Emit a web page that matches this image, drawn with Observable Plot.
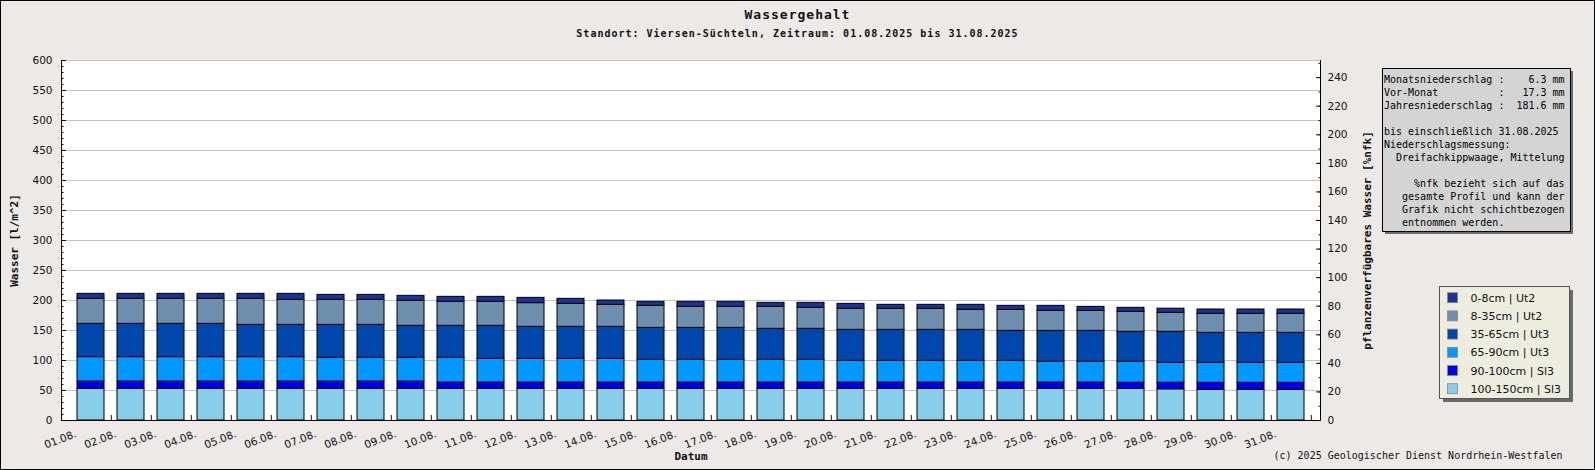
<!DOCTYPE html>
<html><head><meta charset="utf-8">
<script src="https://cdn.jsdelivr.net/npm/d3@7"></script>
<script src="https://cdn.jsdelivr.net/npm/@observablehq/plot@0.6"></script>
<style>
html,body{margin:0;padding:0;background:#ece9e7;}
#chart{width:1595px;height:470px;}
</style></head><body><div id="chart"></div>
<script>
// ---- data ----
const days = ["01.08.","02.08.","03.08.","04.08.","05.08.","06.08.","07.08.","08.08.","09.08.","10.08.",
  "11.08.","12.08.","13.08.","14.08.","15.08.","16.08.","17.08.","18.08.","19.08.","20.08.",
  "21.08.","22.08.","23.08.","24.08.","25.08.","26.08.","27.08.","28.08.","29.08.","30.08.","31.08."];
const layerNames = ["100-150cm | Sl3","90-100cm | Sl3","65-90cm | Ut3","35-65cm | Ut3","8-35cm | Ut2","0-8cm | Ut2"];
const layerColors = ["#87ceeb","#0000ee","#0099ff","#0047ab","#6f8fae","#1a3399"];
const legendOrder = ["0-8cm | Ut2","8-35cm | Ut2","35-65cm | Ut3","65-90cm | Ut3","90-100cm | Sl3","100-150cm | Sl3"];
const w100_150 = [52.8,52.8,52.8,52.8,52.8,52.8,52.8,52.8,52.8,52.8,52.8,52.8,52.8,52.8,52.8,52.8,52.8,52.8,52.8,52.8,52.8,52.8,52.8,52.8,52.8,52.8,52.5,52.0,51.0,51.0,51.0];
const w90_100  = [12.2,12.2,12.2,12.2,12.2,12.2,12.2,12.2,12.2,10.5,10.5,10.5,10.5,10.5,10.5,10.5,10.5,10.5,10.5,10.5,10.5,10.5,10.5,10.5,10.5,10.5,10.5,11.0,11.8,11.8,11.8];
const w65_90   = [40.6,40.6,40.6,40.6,40.6,40.6,39.4,39.4,39.4,41.1,39.5,39.5,39.5,39.5,37.8,37.8,37.8,37.8,37.8,36.1,36.1,36.1,36.1,36.1,34.5,34.5,34.8,33.1,33.3,33.3,33.3];
const w35_65   = [55.5,55.5,55.5,55.5,53.8,53.8,55.0,55.0,53.4,53.4,55.0,53.3,53.3,53.3,53.3,53.3,53.3,51.7,51.7,51.7,51.7,51.7,51.7,50.0,51.6,51.6,50.0,51.7,50.0,50.0,50.0];
const w8_35    = [41.7,41.7,41.7,41.7,43.4,41.7,41.7,41.7,41.6,40.0,40.0,39.5,38.3,36.7,36.7,35.0,35.0,36.6,35.0,35.0,35.0,35.0,33.3,35.0,33.4,33.4,33.3,31.6,31.7,31.7,31.7];
const w0_8     = [8.3,8.3,8.3,8.3,8.3,10.0,8.3,8.3,8.4,8.3,8.3,8.8,8.4,7.2,6.7,8.4,8.4,6.7,8.3,8.3,6.7,6.7,8.4,6.7,8.3,6.6,6.7,7.0,7.2,7.2,7.2];
const leftTicks = [0,50,100,150,200,250,300,350,400,450,500,550,600];
const rightTicks = [0,20,40,60,80,100,120,140,160,180,200,220,240];
const rightMax = 252;
const titleText = "Wassergehalt";
const subtitleText = "Standort: Viersen-Süchteln, Zeitraum: 01.08.2025 bis 31.08.2025";
const yLabelLeft = "Wasser [l/m^2]";
const yLabelRight = "pflanzenverfügbares Wasser [%nfk]";
const xLabel = "Datum";
const copyright = "(c) 2025 Geologischer Dienst Nordrhein-Westfalen";
const infoLines = [
  "Monatsniederschlag :    6.3 mm",
  "Vor-Monat          :   17.3 mm",
  "Jahresniederschlag :  181.6 mm",
  "",
  "bis einschließlich 31.08.2025",
  "Niederschlagsmessung:",
  "  Dreifachkippwaage, Mittelung",
  "",
  "     %nfk bezieht sich auf das",
  "   gesamte Profil und kann der",
  "   Grafik nicht schichtbezogen",
  "   entnommen werden."
];

// ---- build table ----
const series = [w100_150, w90_100, w65_90, w35_65, w8_35, w0_8];
const data = [];
days.forEach((d, j) => series.forEach((s, i) => data.push({day: d, layer: layerNames[i], value: s[j]})));

const W = 1595, H = 470, mL = 61, mR = 275, mT = 60, mB = 50;
const step = (W - mL - mR) / days.length;
const k = 600 / rightMax;
const minorLeft = d3.range(0, 601, 10);
const minorRight = d3.range(0, 251, 10).map(v => v * k);

const plot = Plot.plot({
  width: W, height: H, marginLeft: mL, marginRight: mR, marginTop: mT, marginBottom: mB,
  style: {background: "#ece9e7", fontFamily: "DejaVu Sans", fontSize: "10.5px", color: "#111"},
  x: {domain: days, paddingInner: 0.32, paddingOuter: 0.16, axis: null},
  y: {domain: [0, 600], axis: null},
  color: {domain: layerNames, range: layerColors},
  marks: [
    Plot.frame({fill: "white", stroke: null}),
    Plot.gridY({ticks: leftTicks, stroke: "#c4c4c4", strokeOpacity: 1}),
    Plot.barY(data, {x: "day", y: "value", fill: "layer", stroke: "black", strokeWidth: 1}),
    Plot.frame({anchor: "left", stroke: "black", strokeOpacity: 1}),
    Plot.frame({anchor: "right", stroke: "black", strokeOpacity: 1}),
    Plot.ruleY([0], {stroke: "black"}),
    // left axis
    Plot.axisY({ticks: minorLeft, tickSize: -2.5, tickFormat: () => "", label: null}),
    Plot.axisY({ticks: leftTicks, tickSize: -5, tickFormat: () => "", label: null}),
    Plot.axisY({ticks: leftTicks, tickSize: 0, tickPadding: 9, label: null}),
    // right axis
    Plot.axisY({anchor: "right", ticks: minorRight, tickSize: -2.5, tickFormat: () => "", label: null}),
    Plot.axisY({anchor: "right", ticks: rightTicks.map(v => v * k), tickSize: -5, tickFormat: () => "", label: null}),
    Plot.axisY({anchor: "right", ticks: rightTicks.map(v => v * k), tickSize: 0, tickPadding: 7, tickFormat: d => String(Math.round(d / k)), label: null}),
    // x axis
    Plot.axisX({tickSize: -5, tickFormat: () => "", dx: step / 2, label: null}),
    Plot.axisX({tickSize: 0, tickPadding: 13, tickRotate: -21, dx: -15, label: null}),
    // axis titles
    Plot.text([yLabelLeft], {frameAnchor: "left", rotate: -90, dx: 14 - mL, textAnchor: "middle", lineAnchor: "middle",
      fontFamily: "DejaVu Sans Mono", fontWeight: "bold", fontSize: 11, fill: "#111"}),
    Plot.text([yLabelRight], {frameAnchor: "right", rotate: -90, dx: 47, textAnchor: "middle", lineAnchor: "middle",
      fontFamily: "DejaVu Sans Mono", fontWeight: "bold", fontSize: 11, fill: "#111"}),
    Plot.text([xLabel], {frameAnchor: "bottom", dy: 39, lineAnchor: "bottom", textAnchor: "middle",
      fontFamily: "DejaVu Sans Mono", fontWeight: "bold", fontSize: 11, fill: "#111"}),
    Plot.text([copyright], {frameAnchor: "bottom-right", dx: 1562 - (W - mR), dy: 38, lineAnchor: "bottom", textAnchor: "end",
      fontFamily: "DejaVu Sans Mono", fontSize: 10, fill: "#111"})
  ]
});
document.getElementById("chart").appendChild(plot);

// ---- decorations: border, titles, info box, legend ----
const svg = d3.select(plot);
svg.append("rect").attr("x", 0.5).attr("y", 0.5).attr("width", W - 1).attr("height", H - 1)
  .attr("fill", "none").attr("stroke", "black");

svg.append("text").attr("x", 797.5).attr("y", 19).attr("text-anchor", "middle")
  .attr("font-family", "DejaVu Sans Mono").attr("font-weight", "bold").attr("font-size", 13)
  .attr("letter-spacing", "1px").attr("fill", "#111").text(titleText);
svg.append("text").attr("x", 797.5).attr("y", 37).attr("text-anchor", "middle")
  .attr("font-family", "DejaVu Sans Mono").attr("font-weight", "bold").attr("font-size", 10)
  .attr("letter-spacing", "1px").attr("fill", "#111").text(subtitleText);

const ib = {x: 1382, y: 68, w: 188, h: 163};
svg.append("rect").attr("x", ib.x + 3).attr("y", ib.y + 3).attr("width", ib.w).attr("height", ib.h).attr("fill", "#6e6e6e");
svg.append("rect").attr("x", ib.x + 0.5).attr("y", ib.y + 0.5).attr("width", ib.w).attr("height", ib.h).attr("fill", "#d4d4d4").attr("stroke", "black");
const it = svg.append("text").attr("font-family", "DejaVu Sans Mono").attr("font-size", 10).attr("fill", "#000")
  .attr("text-anchor", "start").attr("xml:space", "preserve").style("white-space", "pre");
infoLines.forEach((line, i) => {
  it.append("tspan").attr("x", ib.x + 2).attr("y", 82.5 + 13 * i).attr("text-anchor", "start").text(line);
});

const lg = {x: 1439, y: 286, w: 130, h: 112};
svg.append("rect").attr("x", lg.x + 4).attr("y", lg.y + 4).attr("width", lg.w).attr("height", lg.h).attr("fill", "#6a6a6a");
svg.append("rect").attr("x", lg.x + 0.5).attr("y", lg.y + 0.5).attr("width", lg.w).attr("height", lg.h).attr("fill", "#ededdf").attr("stroke", "#555");
legendOrder.forEach((name, i) => {
  const cy = 297.7 + 18.2 * i;
  const col = layerColors[layerNames.indexOf(name)];
  svg.append("rect").attr("x", 1447.5).attr("y", cy - 5).attr("width", 10).attr("height", 10).attr("fill", col).attr("stroke", "#888").attr("stroke-width", 0.8);
  svg.append("text").attr("x", 1470.5).attr("y", cy + 4).attr("text-anchor", "start")
    .attr("font-family", "DejaVu Sans").attr("font-size", 11).attr("fill", "#111").text(name);
});
</script>
</body></html>
